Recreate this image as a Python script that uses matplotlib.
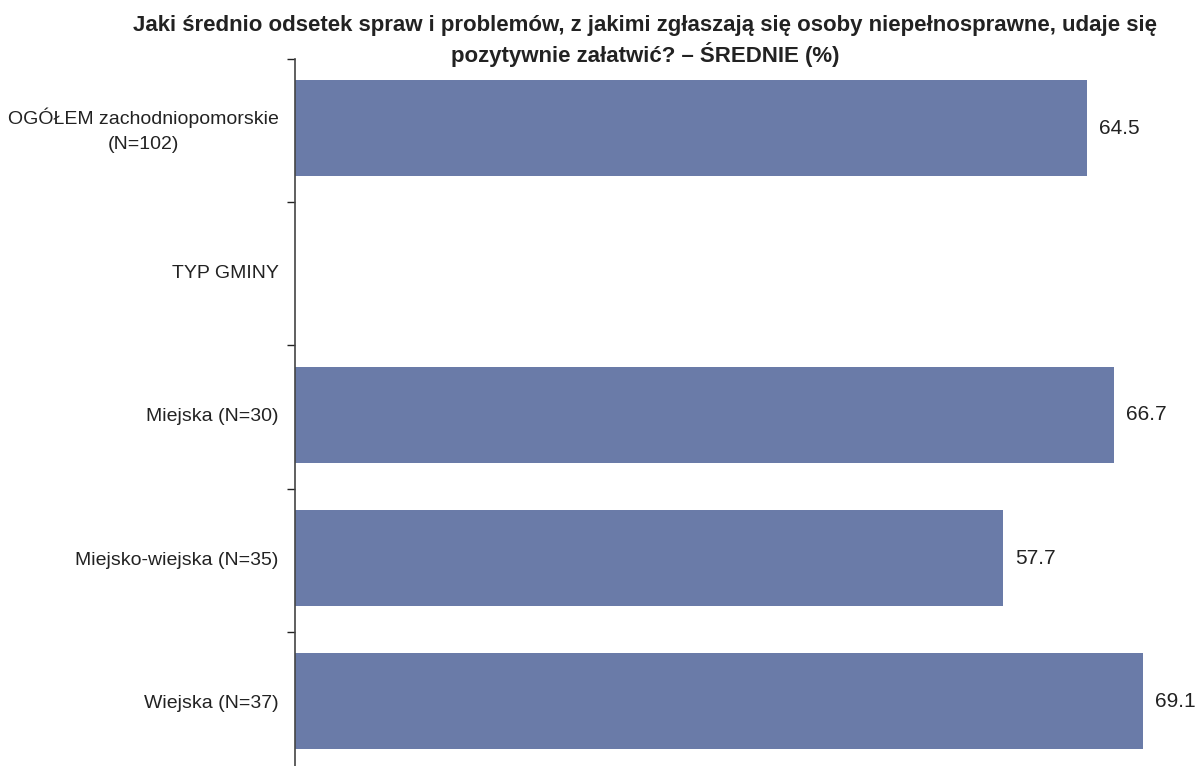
#!/usr/bin/env python3
"""Horizontal bar chart: mean share of positively resolved cases (%)."""

import matplotlib.pyplot as plt
import numpy as np

plt.rcParams.update({
    "font.family": ["Liberation Sans", "DejaVu Sans"],
    "text.color": "#222222",
    "axes.edgecolor": "#444444",
    "figure.facecolor": "white",
    "axes.facecolor": "white",
})

categories = [
    "OGÓŁEM zachodniopomorskie\n(N=102)",
    "TYP GMINY",
    "Miejska (N=30)",
    "Miejsko-wiejska (N=35)",
    "Wiejska (N=37)",
]
values = [64.5, None, 66.7, 57.7, 69.1]

title = ("Jaki średnio odsetek spraw i problemów, z jakimi zgłaszają się osoby niepełnosprawne, udaje się\n"
         "pozytywnie załatwić? – ŚREDNIE (%)")

bar_color = "#6A7BA8"

fig = plt.figure(figsize=(12, 7.66), dpi=100)
# axes top at y=59px, bottom below the picture edge (as in the original)
ax = fig.add_axes([295 / 1200, 1 - 775 / 766, (1191 - 295) / 1200, (775 - 59) / 766])

y = np.arange(len(categories))
for yi, v in zip(y, values):
    if v is None:
        continue
    ax.barh(yi - 0.015, v, height=0.67, color=bar_color, edgecolor="none")
    ax.text(v + 1.0, yi - 0.015, f"{v:.1f}", va="center", ha="left", fontsize=15)

ax.set_xlim(0, 73)
ax.set_ylim(len(categories) - 0.5, -0.5)

# tick marks sit between categories, labels at category centres
ax.set_yticks(np.arange(len(categories) + 1) - 0.5)
ax.set_yticklabels([])
ax.tick_params(axis="y", length=6, width=1, color="#222222", direction="out")
for yi, lab in zip(y, categories):
    ax.text(-1.35, yi, lab, ha="right", va="center", fontsize=14,
            multialignment="center", linespacing=1.6)

ax.set_xticks([])
for side in ["top", "right", "bottom"]:
    ax.spines[side].set_visible(False)
ax.spines["left"].set_linewidth(1.2)

fig.text(645 / 1200, 1 - 15 / 766, title, ha="center", va="top",
         fontsize=16, fontweight="bold", linespacing=1.28)

fig.savefig("out.png", dpi=100)
